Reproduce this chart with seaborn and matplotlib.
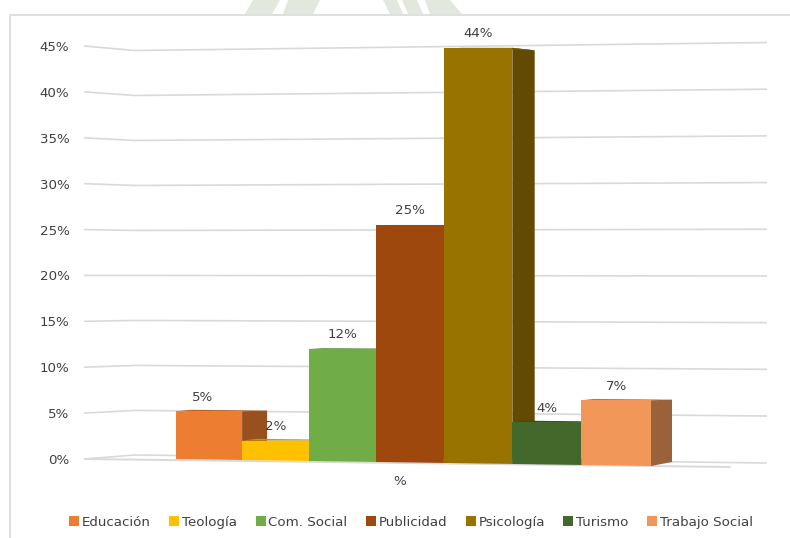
from matplotlib import pyplot as plt
from matplotlib.lines import Line2D
from matplotlib.patches import Polygon
from matplotlib.colors import to_rgb
import pandas as pd
import seaborn as sns

carreras = ['Educación', 'Teología', 'Com. Social', 'Publicidad', 'Psicología', 'Turismo', 'Trabajo Social']
valores = [5.2, 2.0, 12.0, 25.5, 44.8, 4.0, 6.4]
etiquetas = ['5%', '2%', '12%', '25%', '44%', '4%', '7%']
colores = ['#ed7d31', '#ffc000', '#70ad47', '#9e480e', '#997300', '#43682b', '#f1975a']
categoria = ['%']
yticks = [0, 5, 10, 15, 20, 25, 30, 35, 40, 45]
ytick_labels = ['0%', '5%', '10%', '15%', '20%', '25%', '30%', '35%', '40%', '45%']

W, H = 790, 538
GRIS = '#d9d9d9'
TEXTO = '#404040'
FS = 9.6


def main():
    sns.set_theme(style='white')
    plt.rcParams['font.family'] = ['DejaVu Sans']

    fig = plt.figure(figsize=(W / 100, H / 100), dpi=100)
    ax = fig.add_axes([84 / W, 1 - 470 / H, (767 - 84) / W, (470 - 20) / H])
    ax.patch.set_alpha(0)

    df = pd.DataFrame({'cat': categoria * len(carreras), 'carrera': carreras, 'valor': valores})
    sns.barplot(data=df, x='cat', y='valor', hue='carrera', hue_order=carreras,
                palette=colores, saturation=1, width=0.8, gap=0, linewidth=0, ax=ax)

    # pixels <-> data
    ux = 593.75  # px per x unit
    uy = 413 / 45  # px per y unit
    cx = 413.5
    ax.set_xlim((84 - cx) / ux, (767 - cx) / ux)
    ax.set_ylim((459 - 470) / uy, (459 - 20) / uy)

    def xd(px):
        return (px - cx) / ux

    def warp(x):
        # bars are a bit narrower on the left in the 3d view
        t = (x + 0.4) / 0.8
        return x - 4 * t * (1 - t) * 3.6 / ux

    # back wall lines with the small bend of the 3d view
    for v in yticks[1:]:
        kink = (v - 20) * 0.18
        right = -(v - 20) * 0.16 + 0.5
        ax.plot([xd(84), xd(135), xd(767)], [v, v - kink / uy, v - right / uy],
                color=GRIS, lw=1.2, zorder=1)
    ax.plot([xd(84), xd(135), xd(767)], [0, 4 / uy, -4 / uy], color=GRIS, lw=1.2, zorder=1)
    ax.plot([xd(84), xd(730)], [0, -8 / uy], color=GRIS, lw=1.4, zorder=1)

    # fake depth made from each bar
    n = len(carreras)
    for i, cont in enumerate(ax.containers):
        bar = cont[0]
        x0 = warp(bar.get_x())
        x1 = warp(bar.get_x() + bar.get_width())
        bar.set_x(x0)
        bar.set_width(x1 - x0)
        top = bar.get_height()
        d = (25 - i * 4 / (n - 1)) / ux
        dy = (top - 20) * 0.1 / uy
        side_dy = dy if dy > 0 else dy * 0.5
        drop0 = (x0 * ux + cx - 176) * 7 / 475 / uy
        drop1 = (x1 * ux + cx - 176) * 7 / 475 / uy
        base = to_rgb(colores[i])
        side = tuple(c * 0.64 for c in base)
        cap = tuple(c * 0.78 for c in base)
        bar.set_zorder(3 + i + 0.5)
        ax.add_patch(Polygon([(x1, top), (x1 + d, top - side_dy), (x1 + d, -drop1 + 4 / uy), (x1, -drop1)],
                             facecolor=side, edgecolor='none', zorder=3 + i))
        ax.add_patch(Polygon([(x0, top), (x1, top), (x1 + d, top - side_dy), (x0 + d * 0.6, top + max(0, -dy))],
                             facecolor=cap, edgecolor='none', zorder=3 + i))
        ax.add_patch(Polygon([(x0, 0), (x1, 0), (x1, -drop1), (x0, -drop0)],
                             facecolor=base, edgecolor='none', zorder=3 + i + 0.5))
        txt = ax.bar_label(cont, labels=[etiquetas[i]], padding=5.5, fontsize=FS, color=TEXTO, zorder=30)
        if i == 0:
            # first label sits left of the bar centre
            txt[0].xyann = (-5, 5.5)

    ax.set_yticks(yticks, ytick_labels)
    ax.set_xticks([(400 - cx) / ux], categoria)
    ax.tick_params(axis='y', length=0, pad=10.5, labelsize=FS, labelcolor=TEXTO)
    ax.tick_params(axis='x', length=0, pad=3.5, labelsize=FS, labelcolor=TEXTO)
    ax.set_xlabel('')
    ax.set_ylabel('')
    sns.despine(ax=ax, left=True, bottom=True)

    handles, labels = ax.get_legend_handles_labels()
    ax.get_legend().remove()
    fig.legend(handles, labels, ncol=7, frameon=False, loc='center',
               bbox_to_anchor=(411 / W, 1 - 522.5 / H), fontsize=FS, labelcolor=TEXTO,
               handlelength=0.75, handleheight=0.75, handletextpad=0.2,
               columnspacing=1.39, borderpad=0, borderaxespad=0)

    # picture frame and the cut-off watermark above it
    fig.add_artist(Line2D([10 / W, 10 / W, 1], [0, 1 - 15 / H, 1 - 15 / H], color=GRIS, lw=1.2))
    bandas = [(245, 272, 253, 280), (283, 313, 288, 320), (390, 403, 383, 397),
              (408, 423, 402, 417), (430, 462, 425, 450)]
    for a, b, c, e in bandas:
        fig.add_artist(Polygon([(a / W, 1 - 14 / H), (b / W, 1 - 14 / H), (e / W, 1), (c / W, 1)],
                               transform=fig.transFigure, facecolor='#e3e8df', edgecolor='none'))

    fig.savefig('out.png', dpi=100)


if __name__ == '__main__':
    main()
